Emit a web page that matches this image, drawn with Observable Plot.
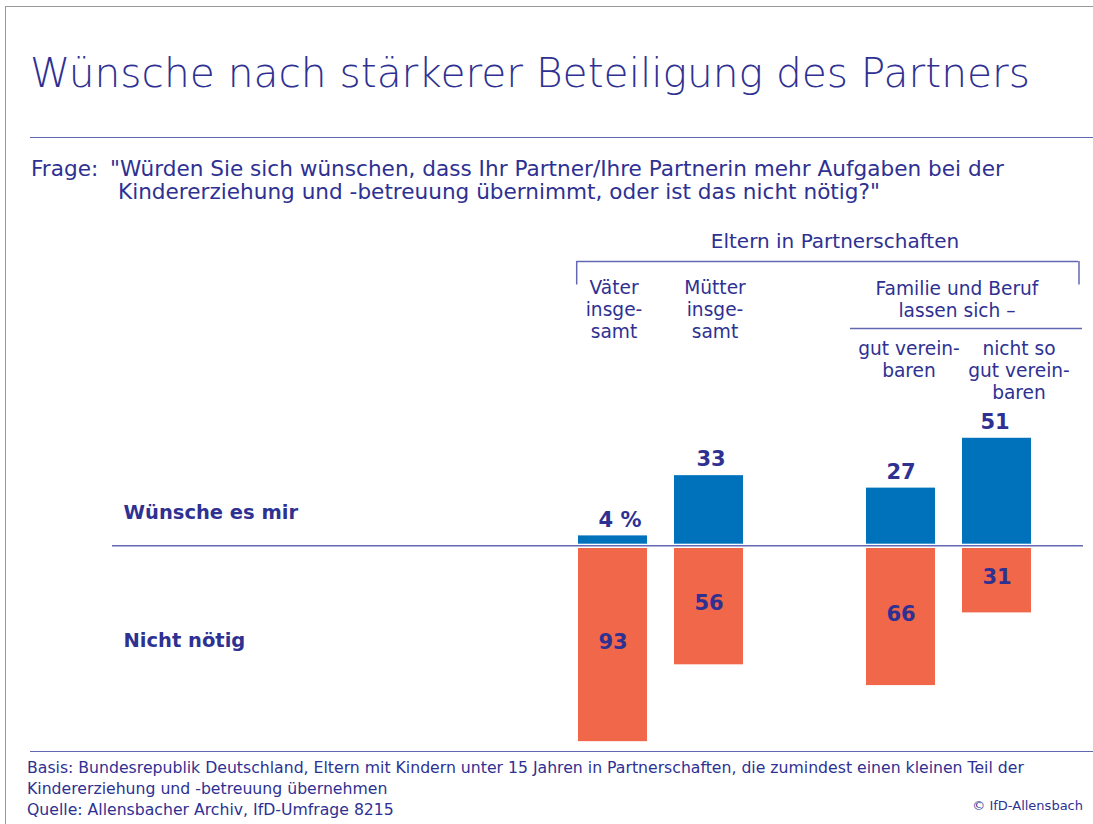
<!DOCTYPE html>
<html><head><meta charset="utf-8">
<script src="https://cdn.jsdelivr.net/npm/d3@7"></script>
<script src="https://cdn.jsdelivr.net/npm/@observablehq/plot@0.6"></script>
<style>
html,body{margin:0;padding:0;background:#fff;}
#page{position:relative;width:1093px;height:824px;overflow:hidden;font-family:"DejaVu Sans",sans-serif;color:#2e3192;background:#fff;}
.abs{position:absolute;white-space:nowrap;}
.rule{position:absolute;height:0;border-top:1.5px solid #6368b3;}
</style></head><body>
<div id="page">
  <div class="abs" style="left:6px;top:6px;width:1087px;height:0;border-top:1.5px solid #9a9a9a"></div>
  <div class="abs" style="left:5px;top:6px;width:0;height:818px;border-left:1.5px solid #9a9a9a"></div>
  <div id="title" class="abs" style="left:30px;top:52.5px;font-size:40.7px;line-height:1;font-weight:300"></div>
  <div class="rule" style="left:30px;top:137px;width:1063px"></div>
  <div id="frageLbl" class="abs" style="left:31px;top:157px;font-size:21.6px;line-height:23.3px"></div>
  <div id="frage" class="abs" style="left:110px;top:157px;font-size:21.6px;line-height:23.3px"></div>
  <div id="chart" class="abs" style="left:0;top:220px"></div>
  <div class="rule" style="left:30px;top:751px;width:1063px"></div>
  <div id="basis" class="abs" style="left:27px;top:757px;font-size:15.7px;line-height:21px"></div>
  <div id="copy" class="abs" style="right:10px;top:799px;font-size:13px;line-height:1"></div>
</div>
<script>
// ---- data ----
const categories = ["Väter insgesamt", "Mütter insgesamt", "gut vereinbaren", "nicht so gut vereinbaren"];
const gapKey = "gap";
const wuenscheEsMir = [4, 33, 27, 51];
const nichtNoetig = [93, 56, 66, 31];
const topValueLabels = ["4 %", "33", "27", "51"];
const columnLabels = ["Väter\ninsge-\nsamt", "Mütter\ninsge-\nsamt", "gut verein-\nbaren", "nicht so\ngut verein-\nbaren"];
const seriesLabels = ["Wünsche es mir", "Nicht nötig"];
const groupLabel = "Familie und Beruf\nlassen sich –";
const superLabel = "Eltern in Partnerschaften";
const titleText = "Wünsche nach stärkerer Beteiligung des Partners";
const frageLabel = "Frage:";
const frageLines = ["\"Würden Sie sich wünschen, dass Ihr Partner/Ihre Partnerin mehr Aufgaben bei der", "Kindererziehung und -betreuung übernimmt, oder ist das nicht nötig?\""];
const footerLines = ["Basis: Bundesrepublik Deutschland, Eltern mit Kindern unter 15 Jahren in Partnerschaften, die zumindest einen kleinen Teil der", "Kindererziehung und -betreuung übernehmen", "Quelle: Allensbacher Archiv, IfD-Umfrage 8215"];
const copyright = "© IfD-Allensbach";

// ---- texts ----
document.getElementById("title").textContent = titleText;
document.getElementById("frageLbl").textContent = frageLabel;
document.getElementById("frage").innerHTML = frageLines.map((l, i) => `<div style="padding-left:${i ? 8 : 0}px">${l}</div>`).join("");
document.getElementById("basis").innerHTML = footerLines.map(l => `<div>${l}</div>`).join("");
document.getElementById("copy").textContent = copyright;

// ---- layout ----
const W = 1093, H = 528, TOP = 220, ZERO = 543.7, K = 2.077, NEG_GAP = 4.3;
const BASE = ZERO - TOP;
const yOf = pageY => (ZERO - pageY) / K;
const blue = "#0072bc", orange = "#f0674a", ink = "#2e3192", line = "#6368b3";
const font = "DejaVu Sans";
const HEAD_FS = 18.6, HEAD_LH = 1.18;

const rows = categories.map((c, i) => ({cat: c, pos: wuenscheEsMir[i], neg: nichtNoetig[i], top: topValueLabels[i], col: columnLabels[i]}));
const headerDx = [1, 6, 8, 22];
const topLabelDx = [7, 2, 0, -2];

const marks = [
  Plot.barY(rows, {x: "cat", y1: 0, y2: "pos", fill: blue}),
  Plot.barY(rows, {x: "cat", y1: 0, y2: d => -d.neg, fill: orange, dy: NEG_GAP}),
  Plot.ruleY([0], {stroke: line, strokeWidth: 1.5, dy: 1.6, insetLeft: 112, insetRight: 10}),
  ...rows.map((r, i) => Plot.text([r], {x: "cat", y: "pos", text: "top", dx: topLabelDx[i], dy: -16, fontSize: 21, fontWeight: "bold", fill: ink})),
  Plot.text(rows, {x: "cat", y: d => -d.neg / 2, text: d => String(d.neg), dy: NEG_GAP - 3, fontSize: 21, fontWeight: "bold", fill: ink}),
  Plot.text(seriesLabels, {y: [yOf(512), yOf(640)], text: d => d, frameAnchor: "left", dx: 123, textAnchor: "start", fontSize: 19.5, fontWeight: "bold", fill: ink}),
  // header
  Plot.text([superLabel], {x: [gapKey], y: [yOf(233.5)], text: d => d, dx: 30, lineAnchor: "top", fontSize: 20, fill: ink}),
  Plot.ruleY([0], {x1: [categories[0]], x2: [categories[3]], y: [yOf(261)], stroke: line, strokeWidth: 1.5, insetLeft: -1.5, insetRight: -47}),
  Plot.ruleX([0], {x: [categories[0]], y1: [yOf(261)], y2: [yOf(284.5)], dx: -36.3, stroke: line, strokeWidth: 1.5}),
  Plot.ruleX([0], {x: [categories[3]], y1: [yOf(261)], y2: [yOf(284.5)], dx: 82, stroke: line, strokeWidth: 1.5}),
  Plot.text([groupLabel], {x: [categories[2]], y: [yOf(278.5)], text: d => d, dx: 56, lineAnchor: "top", lineHeight: HEAD_LH, fontSize: HEAD_FS, fill: ink}),
  Plot.ruleY([0], {x1: [categories[2]], x2: [categories[3]], y: [yOf(328)], stroke: line, strokeWidth: 1.5, insetLeft: -16, insetRight: -51}),
  ...rows.map((r, i) => Plot.text([r], {x: "cat", y: [yOf(i < 2 ? 278 : 339)], text: "col", dx: headerDx[i], lineAnchor: "top", lineHeight: HEAD_LH, fontSize: HEAD_FS, fill: ink}))
];

const chart = Plot.plot({
  width: W, height: H, margin: 0,
  x: {type: "band", domain: [categories[0], categories[1], gapKey, categories[2], categories[3]], range: [576, 1034], paddingInner: 0.278, paddingOuter: 0, axis: null},
  y: {domain: [-(H - BASE) / K, BASE / K], axis: null},
  style: {fontFamily: font, color: ink, background: "transparent", overflow: "visible"},
  marks
});
document.getElementById("chart").appendChild(chart);
</script>
</body></html>
